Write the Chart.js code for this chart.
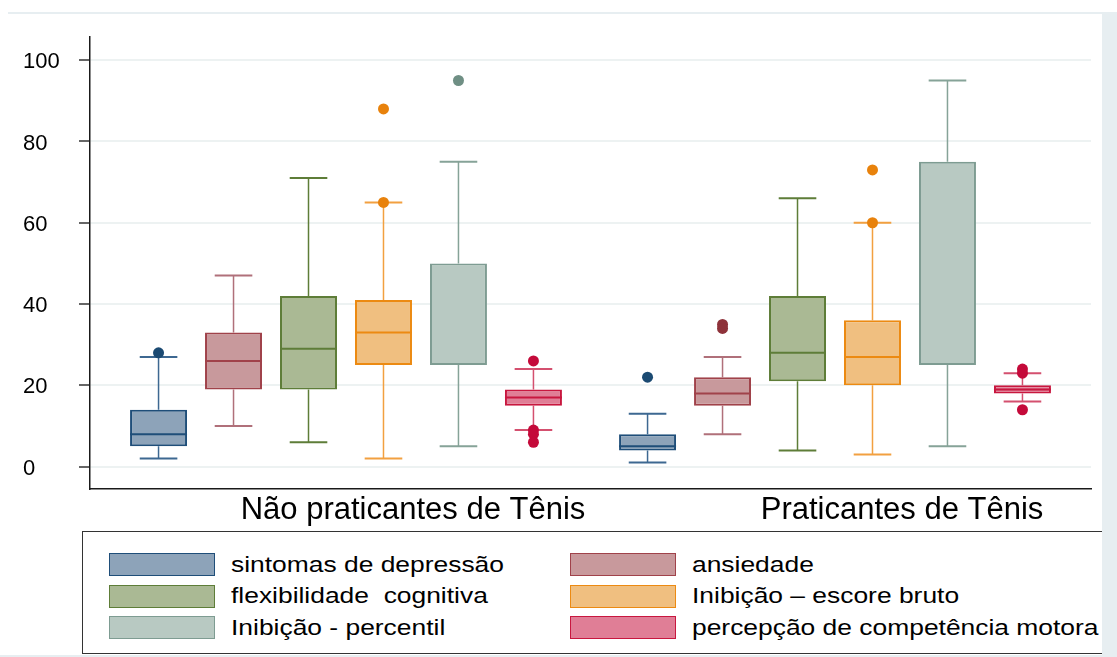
<!DOCTYPE html>
<html>
<head>
<meta charset="utf-8">
<script src="https://cdn.jsdelivr.net/npm/chart.js@4.4.1/dist/chart.umd.min.js"></script>
<style>
  html, body { margin: 0; padding: 0; background: #fff; }
  #wrap { position: relative; width: 1117px; height: 657px; overflow: hidden; font-family: "Liberation Sans", Arial, sans-serif; }
  #chart { position: absolute; left: 0; top: 0; }
  .frame { position: absolute; background: #E7EEF1; z-index: 3; }
  #legend {
    position: absolute; left: 82px; top: 531px; width: 1030px; height: 123px;
    box-sizing: border-box; border: 1.5px solid #333; background: #fff;
    display: grid; grid-template-columns: 461px auto; grid-auto-rows: 23px;
    row-gap: 8.5px; padding: 21px 0 0 26px; z-index: 2;
  }
  .item { display: flex; align-items: center; height: 23px; white-space: nowrap; }
  .swatch { width: 106px; height: 23px; box-sizing: border-box; border: 1.5px solid; flex: none; }
  .label { margin-left: 16px; font-size: 22px; color: #000; white-space: pre; transform: scaleX(1.2); transform-origin: left center; }
</style>
</head>
<body>
<div id="wrap">
  <canvas id="chart" width="1117" height="657"></canvas>
  <div class="frame" style="left:8px; top:12px; width:1094px; height:2px;"></div>
  <div class="frame" style="left:1102px; top:12px; width:15px; height:645px;"></div>
  <div class="frame" style="left:0; top:655px; width:1117px; height:2px;"></div>
  <div id="legend"></div>
</div>
<script>
const groups = ["Não praticantes de Tênis", "Praticantes de Tênis"];
const seriesNames = [
  "sintomas de depressão",
  "ansiedade",
  "flexibilidade  cognitiva",
  "Inibição – escore bruto",
  "Inibição - percentil",
  "percepção de competência motora"
];
const yTicks = [0, 20, 40, 60, 80, 100];

// one pair per series: [Não praticantes, Praticantes]
const lowerWhisker = [[2, 1], [10, 8], [6, 4], [2, 3], [5, 5], [9, 16]];
const q1 = [[5, 4], [19, 15], [19, 21], [25, 20], [25, 25], [15, 18]];
const medians = [[8, 5], [26, 18], [29, 28], [33, 27], [25, 25], [17, 19]];
const q3 = [[14, 8], [33, 22], [42, 42], [41, 36], [50, 75], [19, 20]];
const upperWhisker = [[27, 13], [47, 27], [71, 66], [65, 60], [75, 95], [24, 23]];
const outliers = [
  [[28], [22]],
  [[], [35, 34]],
  [[], []],
  [[65, 88], [60, 73]],
  [[95], []],
  [[26, 9, 8, 6], [24, 23, 14]]
];

const fills = ["#8DA3B9", "#C8999C", "#AAB994", "#F0BF80", "#B8C9C2", "#E07E96"];
const borders = ["#1F4E79", "#A0424A", "#5E7D38", "#EC8A12", "#7E9C92", "#C8173F"];
const whiskerColors = ["#3D6891", "#B0707A", "#5E7D38", "#F2A040", "#86A398", "#D4506F"];
const dotColors = ["#1B4A72", "#8E323A", "#5E7D38", "#E8820C", "#6F8F84", "#C40A3A"];

const boxPlot = {
  id: "boxPlot",
  beforeDatasetsDraw(chart) {
    const ctx = chart.ctx;
    const y = chart.scales.y;
    chart.data.datasets.forEach((ds, i) => {
      chart.getDatasetMeta(i).data.forEach((bar, j) => {
        const cap = bar.width * 0.66;
        ctx.save();
        ctx.strokeStyle = whiskerColors[i];
        ctx.lineWidth = 1.5;
        ctx.beginPath();
        ctx.moveTo(bar.x, y.getPixelForValue(q3[i][j]));
        ctx.lineTo(bar.x, y.getPixelForValue(upperWhisker[i][j]));
        ctx.moveTo(bar.x, y.getPixelForValue(q1[i][j]));
        ctx.lineTo(bar.x, y.getPixelForValue(lowerWhisker[i][j]));
        ctx.stroke();
        ctx.lineWidth = 2;
        ctx.beginPath();
        [upperWhisker[i][j], lowerWhisker[i][j]].forEach((v) => {
          const py = y.getPixelForValue(v);
          ctx.moveTo(bar.x - cap / 2, py);
          ctx.lineTo(bar.x + cap / 2, py);
        });
        ctx.stroke();
        ctx.restore();
      });
    });
  },
  afterDatasetsDraw(chart) {
    const ctx = chart.ctx;
    const y = chart.scales.y;
    chart.data.datasets.forEach((ds, i) => {
      chart.getDatasetMeta(i).data.forEach((bar, j) => {
        ctx.save();
        // median (skipped when it sits on the box edge)
        if (medians[i][j] !== q1[i][j] && medians[i][j] !== q3[i][j]) {
          const my = y.getPixelForValue(medians[i][j]);
          ctx.strokeStyle = borders[i];
          ctx.lineWidth = 2;
          ctx.beginPath();
          ctx.moveTo(bar.x - bar.width / 2, my);
          ctx.lineTo(bar.x + bar.width / 2, my);
          ctx.stroke();
        }
        // outside values
        ctx.fillStyle = dotColors[i];
        outliers[i][j].forEach((v) => {
          ctx.beginPath();
          ctx.arc(bar.x, y.getPixelForValue(v), 5.5, 0, Math.PI * 2);
          ctx.fill();
        });
        ctx.restore();
      });
    });
  }
};

const chart = new Chart(document.getElementById("chart"), {
  type: "bar",
  data: {
    datasets: seriesNames.map((name, i) => ({
      label: name,
      data: groups.map((g, j) => ({ x: j, y: [q1[i][j], q3[i][j]] })),
      backgroundColor: fills[i],
      borderColor: borders[i],
      borderWidth: 2,
      borderSkipped: false,
      categoryPercentage: 0.92,
      barPercentage: 0.76,
    })),
  },
  options: {
    responsive: false,
    animation: false,
    layout: { padding: { top: 37, left: 23, right: 26, bottom: 128 } },
    plugins: {
      legend: { display: false },
      tooltip: { enabled: false },
    },
    scales: {
      x: {
        type: "linear",
        offset: false,
        min: -0.5235,
        max: 1.5235,
        afterBuildTicks: (scale) => {
          scale.ticks = groups.map((g, j) => ({ value: j }));
        },
        grid: { color: "transparent", drawTicks: false },
        border: { display: true, color: "#1a1a1a", width: 1.5 },
        ticks: {
          color: "#000",
          padding: 3,
          labelOffset: 67,
          maxRotation: 0,
          callback: (v) => groups[v],
          font: { family: "'Liberation Sans', Arial, sans-serif", size: 31 },
        },
        afterFit: (scale) => { scale.height = 40; },
      },
      y: {
        min: -5.5,
        max: 105.7,
        afterBuildTicks: (scale) => {
          scale.ticks = yTicks.map((v) => ({ value: v }));
        },
        grid: {
          color: "#EDF2F2",
          lineWidth: 2,
          tickColor: "#666",
          tickLength: 11,
          tickWidth: 2,
        },
        border: { display: true, color: "#1a1a1a", width: 1.5 },
        ticks: {
          color: "#000",
          crossAlign: "far",
          labelOffset: 2,
          font: { family: "'Liberation Sans', Arial, sans-serif", size: 22 },
        },
        afterFit: (scale) => { scale.width = 67; },
      },
    },
  },
  plugins: [boxPlot],
});

// legend in two columns, built from the chart datasets
const legendEl = document.getElementById("legend");
chart.data.datasets.forEach((ds) => {
  const item = document.createElement("div");
  item.className = "item";
  const sw = document.createElement("span");
  sw.className = "swatch";
  sw.style.background = ds.backgroundColor;
  sw.style.borderColor = ds.borderColor;
  const lab = document.createElement("span");
  lab.className = "label";
  lab.textContent = ds.label;
  item.appendChild(sw);
  item.appendChild(lab);
  legendEl.appendChild(item);
});
</script>
</body>
</html>
